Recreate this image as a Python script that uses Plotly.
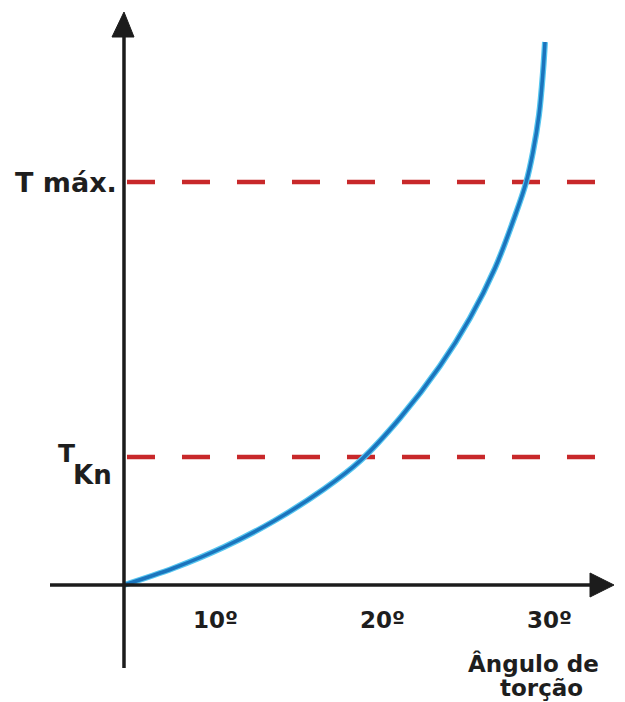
import plotly.graph_objects as go

# ---- data ----
angle_deg = [4.55, 7.54, 10.54, 13.53, 16.53, 18.68, 21.08, 23.47, 25.27, 26.77,
             27.96, 28.62, 29.04, 29.40, 29.64, 29.76]
torque = [0.00, 0.17, 0.38, 0.64, 0.96, 1.24, 1.67, 2.19, 2.67, 3.17,
          3.69, 4.02, 4.33, 4.70, 5.13, 5.43]

T_KN = 1.28
T_MAX = 4.03
ref_x = [4.73, 33.05]          # horizontal extent of the dashed reference lines

tick_vals = [10, 20, 30]
tick_text = ["10º", "20º", "30º"]

x_title = ["Ângulo de", "torção"]

# ---- pixel <-> data mapping (figure 625 x 702, plot area covers all) ----
W, H = 625, 702
PX0, PX_PER_DEG = 48.0, 16.7      # pixel x of 0 deg, pixels per degree
PY0, PY_PER_UNIT = 585.0, 100.0   # pixel y of zero torque, pixels per unit


def dx(px):
    return (px - PX0) / PX_PER_DEG


def dy(py):
    return (PY0 - py) / PY_PER_UNIT


X_ORIGIN = angle_deg[0]

fig = go.Figure()

# dashed reference lines
for t in (T_MAX, T_KN):
    fig.add_trace(go.Scatter(
        x=ref_x, y=[t, t], mode="lines",
        line=dict(color="#c8282a", width=4.5, dash="28px,27px"),
        hoverinfo="skip"))

# curve: light fringe + main stroke
fig.add_trace(go.Scatter(
    x=angle_deg, y=torque, mode="lines",
    line=dict(color="#56c6f0", width=6, shape="spline", smoothing=1.0),
    hoverinfo="skip"))
fig.add_trace(go.Scatter(
    x=angle_deg, y=torque, mode="lines",
    line=dict(color="#1b74bd", width=3.5, shape="spline", smoothing=1.0),
    hoverinfo="skip"))

AX_COL = "#1c1c1c"
shapes = [
    # y axis
    dict(type="line", xref="x", yref="y", x0=X_ORIGIN, x1=X_ORIGIN,
         y0=dy(668), y1=dy(30), line=dict(color=AX_COL, width=3.5)),
    # x axis
    dict(type="line", xref="x", yref="y", x0=dx(50), x1=dx(596),
         y0=0, y1=0, line=dict(color=AX_COL, width=3.5)),
    # y arrow head
    dict(type="path", xref="x", yref="y",
         path=f"M {X_ORIGIN},{dy(12)} L {dx(112)},{dy(37)} L {dx(134)},{dy(37)} Z",
         fillcolor=AX_COL, line=dict(color=AX_COL, width=1)),
    # x arrow head
    dict(type="path", xref="x", yref="y",
         path=f"M {dx(614)},0 L {dx(590)},{dy(573)} L {dx(590)},{dy(597)} Z",
         fillcolor=AX_COL, line=dict(color=AX_COL, width=1)),
]

FONT = "DejaVu Sans"
TXT_COL = "#1e1e1e"
annotations = []
for v, t in zip(tick_vals, tick_text):
    annotations.append(dict(x=v, y=dy(620), xref="x", yref="y", text=f"<b>{t}</b>",
                            showarrow=False, xanchor="center", yanchor="middle",
                            font=dict(family=FONT, size=23, color=TXT_COL)))

annotations += [
    dict(x=dx(119), y=T_MAX, xref="x", yref="y", text="<b>T máx.</b>",
         showarrow=False, xanchor="right", yanchor="middle",
         font=dict(family=FONT, size=27, color=TXT_COL)),
    dict(x=dx(66), y=dy(453), xref="x", yref="y", text="<b>T</b>",
         showarrow=False, xanchor="center", yanchor="middle",
         font=dict(family=FONT, size=25, color=TXT_COL)),
    dict(x=dx(92), y=dy(475), xref="x", yref="y", text="<b>Kn</b>",
         showarrow=False, xanchor="center", yanchor="middle",
         font=dict(family=FONT, size=26, color=TXT_COL)),
    dict(x=dx(533), y=dy(663), xref="x", yref="y", text=f"<b>{x_title[0]}</b>",
         showarrow=False, xanchor="center", yanchor="middle",
         font=dict(family=FONT, size=23, color=TXT_COL)),
    dict(x=dx(541), y=dy(688), xref="x", yref="y", text=f"<b>{x_title[1]}</b>",
         showarrow=False, xanchor="center", yanchor="middle",
         font=dict(family=FONT, size=23, color=TXT_COL)),
]

fig.update_layout(
    width=W, height=H,
    margin=dict(l=0, r=0, t=0, b=0),
    paper_bgcolor="white", plot_bgcolor="white",
    showlegend=False,
    xaxis=dict(range=[dx(0), dx(W)], visible=False, fixedrange=True),
    yaxis=dict(range=[dy(H), dy(0)], visible=False, fixedrange=True),
    shapes=shapes, annotations=annotations,
)

fig.write_html("out.html", config={"displayModeBar": False},
               post_script="document.body.style.margin='0px';document.body.style.overflow='hidden';")
